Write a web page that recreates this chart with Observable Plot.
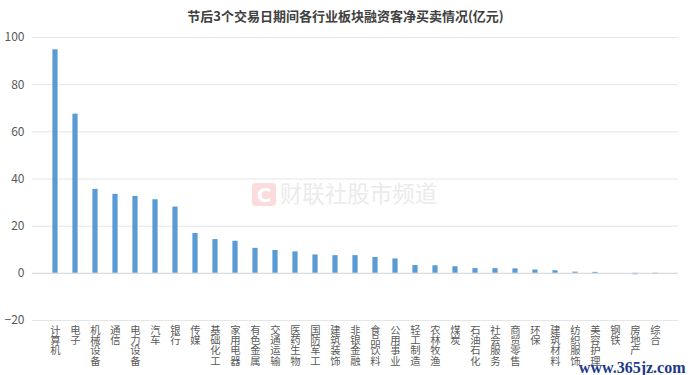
<!DOCTYPE html>
<html>
<head>
<meta charset="utf-8">
<script src="https://cdn.jsdelivr.net/npm/d3@7"></script>
<script src="https://cdn.jsdelivr.net/npm/@observablehq/plot@0.6"></script>
<style>
  html, body { margin: 0; padding: 0; background: #fff; }
  #chart svg { display: block; }
</style>
</head>
<body>
<div id="chart"></div>
<script>
const title = "节后3个交易日期间各行业板块融资客净买卖情况(亿元)";
const categories = ["计算机","电子","机械设备","通信","电力设备","汽车","银行","传媒","基础化工","家用电器","有色金属","交通运输","医药生物","国防军工","建筑装饰","非银金融","食品饮料","公用事业","轻工制造","农林牧渔","煤炭","石油石化","社会服务","商贸零售","环保","建筑材料","纺织服饰","美容护理","钢铁","房地产","综合"];
const values = [94.8,67.5,35.6,33.5,32.6,31.2,28.1,16.9,14.3,13.6,10.6,9.7,9.1,7.8,7.5,7.5,6.7,6.1,3.3,3.2,2.8,2.0,2.0,1.9,1.4,1.1,0.5,0.4,0.0,-0.6,-0.5];
const yTicks = [-20, 0, 20, 40, 60, 80, 100];
const watermark = "财联社股市频道";
const site = "www.365jz.com";

const data = categories.map((c, i) => ({category: c, value: values[i]}));
const font = "'Noto Sans CJK SC', 'Noto Sans', sans-serif";

// one text mark per character row of the vertical category labels
const labelRows = [0, 1, 2, 3].map(i =>
  Plot.text(data.filter(d => d.category.length > i), {
    x: "category", text: d => d.category[i], frameAnchor: "bottom",
    lineAnchor: "top", dy: 6 + i * 10.3, fontSize: 10.3, fill: "#595959"
  })
);

const chart = Plot.plot({
  width: 692,
  height: 375,
  marginLeft: 32,
  marginRight: 14,
  marginTop: 37,
  marginBottom: 55,
  style: {fontFamily: font, background: "#fff", overflow: "visible"},
  x: {domain: categories, padding: 0, label: null, axis: null},
  y: {domain: [-20, 100], ticks: yTicks, label: null},
  marks: [
    Plot.gridY(yTicks, {stroke: "#e6e6e6", strokeOpacity: 1, strokeWidth: 1}),
    Plot.text([watermark], {frameAnchor: "middle", dx: 3, dy: 16, fontSize: 22.5, fill: "#ebebeb"}),
    Plot.barY(data, {x: "category", y: "value", fill: "#5B9BD5", insetLeft: 7.4, insetRight: 7.4}),
    Plot.ruleY([0], {stroke: "#d9d9d9"}),
    Plot.axisY({ticks: yTicks, tickSize: 0, tickPadding: 8, fontSize: 12, fill: "#595959", label: null}),
    ...labelRows,
    Plot.text([title], {frameAnchor: "top", dx: -10, dy: -21, fontSize: 13, fontWeight: "bold", fill: "#404040", lineAnchor: "middle"}),
    Plot.text([site], {frameAnchor: "bottom-right", dx: 7, dy: 52, textAnchor: "end", lineAnchor: "bottom",
      fontSize: 16, fontWeight: "bold", fill: "#1d3a8a", fontFamily: "'Liberation Serif', 'DejaVu Serif', serif"})
  ]
});

// logo of the watermark (decoration)
const svg = d3.select(chart);
const g = svg.append("g");
g.append("rect").attr("x", 252).attr("y", 183).attr("width", 24).attr("height", 23).attr("rx", 4).attr("fill", "#fbdcdc");
g.append("text").attr("x", 264).attr("y", 195).attr("text-anchor", "middle").attr("dominant-baseline", "central")
  .attr("font-size", 20).attr("font-weight", "bold").attr("fill", "#fff").attr("font-family", "'DejaVu Sans', sans-serif").text("C");

document.getElementById("chart").appendChild(chart);
</script>
</body>
</html>
